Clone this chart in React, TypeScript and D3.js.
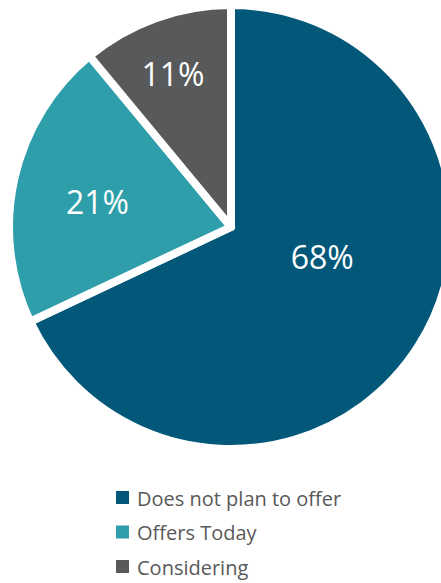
import React from "react";
import * as d3 from "d3";

const categories = ["Does not plan to offer", "Offers Today", "Considering"];
const values = [68, 21, 11];
const colors = ["#03587A", "#2E9FAA", "#58595B"];
// label placement (radius in px, angle shift in degrees) per slice
const labelRadius = [96, 136, 164];
const labelAngleShift = [-14.4, -1.6, -0.9];

const W = 441;
const H = 583;

export default function App() {
  const cx = 231;
  const cy = 227;
  const r = 222;
  const pie = d3.pie<number>().sort(null).value((d) => d)(values);
  const arc = d3.arc<d3.PieArcDatum<number>>().innerRadius(0).outerRadius(r);
  const font = "'Open Sans', 'Liberation Sans', sans-serif";
  return (
    <svg
      width={W}
      height={H}
      style={{ position: "absolute", left: 0, top: 0, background: "#fff" }}
    >
      <g transform={`translate(${cx},${cy})`}>
        {pie.map((p, i) => (
          <path key={i} d={arc(p) || ""} fill={colors[i]} stroke="#fff" strokeWidth={8} strokeLinejoin="round" />
        ))}
        {pie.map((p, i) => {
          const a = (p.startAngle + p.endAngle) / 2 + (labelAngleShift[i] * Math.PI) / 180;
          const x = Math.sin(a) * labelRadius[i];
          const y = -Math.cos(a) * labelRadius[i];
          return (
            <text
              key={i}
              x={x}
              y={y}
              textAnchor="middle"
              dominantBaseline="central"
              fill="#fff"
              fontFamily={font}
              fontSize={32}
            >
              {`${values[i]}%`}
            </text>
          );
        })}
      </g>
      <g transform="translate(116,491)">
        {categories.map((c, i) => (
          <g key={c} transform={`translate(0,${i * 34.5})`}>
            <rect x={0} y={0} width={13} height={13} fill={colors[i]} />
            <text x={21} y={14.5} fill="#595959" fontFamily={font} fontSize={20}>
              {c}
            </text>
          </g>
        ))}
      </g>
    </svg>
  );
}
